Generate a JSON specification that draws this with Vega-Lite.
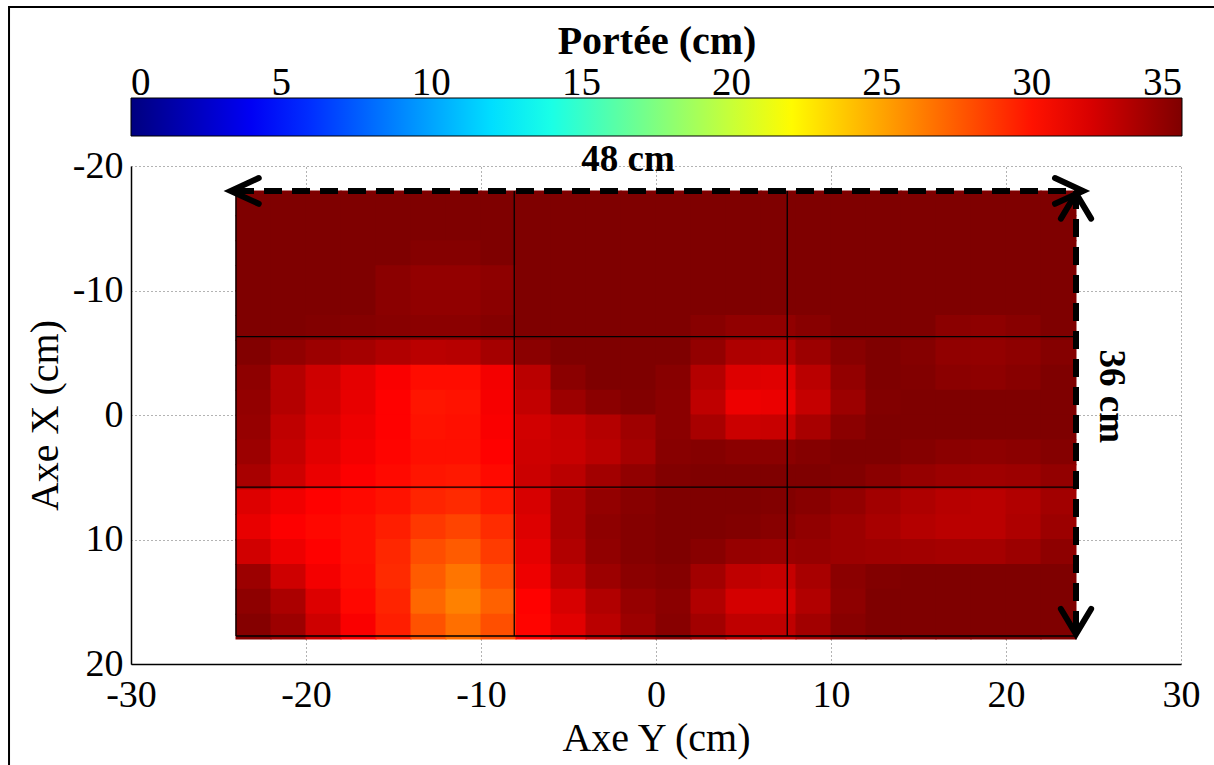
{
"$schema": "https://vega.github.io/schema/vega-lite/v6.json",
"width": 1050,
"height": 498,
"autosize": {"type": "none"},
"padding": {"left": 131, "top": 166, "right": 33, "bottom": 101},
"background": "white",
"datasets": {
"cells": [
{"x":-23,"y":-17,"v":35},{"x":-21,"y":-17,"v":35},{"x":-19,"y":-17,"v":35},{"x":-17,"y":-17,"v":35},{"x":-15,"y":-17,"v":35},{"x":-13,"y":-17,"v":35},{"x":-11,"y":-17,"v":35},{"x":-9,"y":-17,"v":35},{"x":-7,"y":-17,"v":35},{"x":-5,"y":-17,"v":35},{"x":-3,"y":-17,"v":35},{"x":-1,"y":-17,"v":35},{"x":1,"y":-17,"v":35},{"x":3,"y":-17,"v":35},{"x":5,"y":-17,"v":35},{"x":7,"y":-17,"v":35},{"x":9,"y":-17,"v":35},{"x":11,"y":-17,"v":35},{"x":13,"y":-17,"v":35},{"x":15,"y":-17,"v":35},{"x":17,"y":-17,"v":35},{"x":19,"y":-17,"v":35},{"x":21,"y":-17,"v":35},{"x":23,"y":-17,"v":35},
{"x":-23,"y":-15,"v":35},{"x":-21,"y":-15,"v":35},{"x":-19,"y":-15,"v":35},{"x":-17,"y":-15,"v":35},{"x":-15,"y":-15,"v":35},{"x":-13,"y":-15,"v":35},{"x":-11,"y":-15,"v":35},{"x":-9,"y":-15,"v":35},{"x":-7,"y":-15,"v":35},{"x":-5,"y":-15,"v":35},{"x":-3,"y":-15,"v":35},{"x":-1,"y":-15,"v":35},{"x":1,"y":-15,"v":35},{"x":3,"y":-15,"v":35},{"x":5,"y":-15,"v":35},{"x":7,"y":-15,"v":35},{"x":9,"y":-15,"v":35},{"x":11,"y":-15,"v":35},{"x":13,"y":-15,"v":35},{"x":15,"y":-15,"v":35},{"x":17,"y":-15,"v":35},{"x":19,"y":-15,"v":35},{"x":21,"y":-15,"v":35},{"x":23,"y":-15,"v":35},
{"x":-23,"y":-13,"v":35},{"x":-21,"y":-13,"v":35},{"x":-19,"y":-13,"v":35},{"x":-17,"y":-13,"v":35},{"x":-15,"y":-13,"v":35},{"x":-13,"y":-13,"v":34.8},{"x":-11,"y":-13,"v":34.8},{"x":-9,"y":-13,"v":35},{"x":-7,"y":-13,"v":35},{"x":-5,"y":-13,"v":35},{"x":-3,"y":-13,"v":35},{"x":-1,"y":-13,"v":35},{"x":1,"y":-13,"v":35},{"x":3,"y":-13,"v":35},{"x":5,"y":-13,"v":35},{"x":7,"y":-13,"v":35},{"x":9,"y":-13,"v":35},{"x":11,"y":-13,"v":35},{"x":13,"y":-13,"v":35},{"x":15,"y":-13,"v":35},{"x":17,"y":-13,"v":35},{"x":19,"y":-13,"v":35},{"x":21,"y":-13,"v":35},{"x":23,"y":-13,"v":35},
{"x":-23,"y":-11,"v":35},{"x":-21,"y":-11,"v":35},{"x":-19,"y":-11,"v":35},{"x":-17,"y":-11,"v":35},{"x":-15,"y":-11,"v":34.6},{"x":-13,"y":-11,"v":34.3},{"x":-11,"y":-11,"v":34.3},{"x":-9,"y":-11,"v":34.5},{"x":-7,"y":-11,"v":35},{"x":-5,"y":-11,"v":35},{"x":-3,"y":-11,"v":35},{"x":-1,"y":-11,"v":35},{"x":1,"y":-11,"v":35},{"x":3,"y":-11,"v":35},{"x":5,"y":-11,"v":35},{"x":7,"y":-11,"v":35},{"x":9,"y":-11,"v":35},{"x":11,"y":-11,"v":35},{"x":13,"y":-11,"v":35},{"x":15,"y":-11,"v":35},{"x":17,"y":-11,"v":35},{"x":19,"y":-11,"v":35},{"x":21,"y":-11,"v":35},{"x":23,"y":-11,"v":35},
{"x":-23,"y":-9,"v":35},{"x":-21,"y":-9,"v":35},{"x":-19,"y":-9,"v":35},{"x":-17,"y":-9,"v":35},{"x":-15,"y":-9,"v":34.6},{"x":-13,"y":-9,"v":34.4},{"x":-11,"y":-9,"v":34.4},{"x":-9,"y":-9,"v":34.6},{"x":-7,"y":-9,"v":35},{"x":-5,"y":-9,"v":35},{"x":-3,"y":-9,"v":35},{"x":-1,"y":-9,"v":35},{"x":1,"y":-9,"v":35},{"x":3,"y":-9,"v":35},{"x":5,"y":-9,"v":35},{"x":7,"y":-9,"v":35},{"x":9,"y":-9,"v":35},{"x":11,"y":-9,"v":35},{"x":13,"y":-9,"v":35},{"x":15,"y":-9,"v":35},{"x":17,"y":-9,"v":35},{"x":19,"y":-9,"v":35},{"x":21,"y":-9,"v":35},{"x":23,"y":-9,"v":35},
{"x":-23,"y":-7,"v":35},{"x":-21,"y":-7,"v":35},{"x":-19,"y":-7,"v":34.9},{"x":-17,"y":-7,"v":34.8},{"x":-15,"y":-7,"v":34.7},{"x":-13,"y":-7,"v":34.6},{"x":-11,"y":-7,"v":34.6},{"x":-9,"y":-7,"v":34.8},{"x":-7,"y":-7,"v":35},{"x":-5,"y":-7,"v":35},{"x":-3,"y":-7,"v":35},{"x":-1,"y":-7,"v":35},{"x":1,"y":-7,"v":35},{"x":3,"y":-7,"v":34.7},{"x":5,"y":-7,"v":34.4},{"x":7,"y":-7,"v":34.4},{"x":9,"y":-7,"v":34.7},{"x":11,"y":-7,"v":35},{"x":13,"y":-7,"v":35},{"x":15,"y":-7,"v":35},{"x":17,"y":-7,"v":34.6},{"x":19,"y":-7,"v":34.5},{"x":21,"y":-7,"v":34.7},{"x":23,"y":-7,"v":35},
{"x":-23,"y":-5,"v":34.9},{"x":-21,"y":-5,"v":34.4},{"x":-19,"y":-5,"v":34},{"x":-17,"y":-5,"v":33.7},{"x":-15,"y":-5,"v":33.3},{"x":-13,"y":-5,"v":33},{"x":-11,"y":-5,"v":33.1},{"x":-9,"y":-5,"v":33.7},{"x":-7,"y":-5,"v":34.6},{"x":-5,"y":-5,"v":35},{"x":-3,"y":-5,"v":35},{"x":-1,"y":-5,"v":35},{"x":1,"y":-5,"v":35},{"x":3,"y":-5,"v":34.3},{"x":5,"y":-5,"v":33.4},{"x":7,"y":-5,"v":33.3},{"x":9,"y":-5,"v":34},{"x":11,"y":-5,"v":34.7},{"x":13,"y":-5,"v":35},{"x":15,"y":-5,"v":34.8},{"x":17,"y":-5,"v":34.4},{"x":19,"y":-5,"v":34.3},{"x":21,"y":-5,"v":34.5},{"x":23,"y":-5,"v":34.8},
{"x":-23,"y":-3,"v":34.5},{"x":-21,"y":-3,"v":33.2},{"x":-19,"y":-3,"v":32.3},{"x":-17,"y":-3,"v":31.5},{"x":-15,"y":-3,"v":30.8},{"x":-13,"y":-3,"v":30.2},{"x":-11,"y":-3,"v":30.2},{"x":-9,"y":-3,"v":31},{"x":-7,"y":-3,"v":33},{"x":-5,"y":-3,"v":34.6},{"x":-3,"y":-3,"v":35},{"x":-1,"y":-3,"v":35},{"x":1,"y":-3,"v":34.7},{"x":3,"y":-3,"v":33.2},{"x":5,"y":-3,"v":31.8},{"x":7,"y":-3,"v":31.7},{"x":9,"y":-3,"v":33},{"x":11,"y":-3,"v":34.3},{"x":13,"y":-3,"v":35},{"x":15,"y":-3,"v":34.9},{"x":17,"y":-3,"v":34.6},{"x":19,"y":-3,"v":34.5},{"x":21,"y":-3,"v":34.7},{"x":23,"y":-3,"v":35},
{"x":-23,"y":-1,"v":34.3},{"x":-21,"y":-1,"v":33.2},{"x":-19,"y":-1,"v":32.2},{"x":-17,"y":-1,"v":31.4},{"x":-15,"y":-1,"v":30.6},{"x":-13,"y":-1,"v":29.9},{"x":-11,"y":-1,"v":30},{"x":-9,"y":-1,"v":30.9},{"x":-7,"y":-1,"v":32.7},{"x":-5,"y":-1,"v":34},{"x":-3,"y":-1,"v":34.6},{"x":-1,"y":-1,"v":34.9},{"x":1,"y":-1,"v":34.6},{"x":3,"y":-1,"v":32.8},{"x":5,"y":-1,"v":31.2},{"x":7,"y":-1,"v":31.3},{"x":9,"y":-1,"v":32.6},{"x":11,"y":-1,"v":34},{"x":13,"y":-1,"v":34.9},{"x":15,"y":-1,"v":35},{"x":17,"y":-1,"v":35},{"x":19,"y":-1,"v":35},{"x":21,"y":-1,"v":35},{"x":23,"y":-1,"v":35},
{"x":-23,"y":1,"v":34.2},{"x":-21,"y":1,"v":32.8},{"x":-19,"y":1,"v":31.9},{"x":-17,"y":1,"v":31.2},{"x":-15,"y":1,"v":30.6},{"x":-13,"y":1,"v":30},{"x":-11,"y":1,"v":30.1},{"x":-9,"y":1,"v":30.8},{"x":-7,"y":1,"v":32.2},{"x":-5,"y":1,"v":32.6},{"x":-3,"y":1,"v":33.2},{"x":-1,"y":1,"v":33.9},{"x":1,"y":1,"v":34.6},{"x":3,"y":1,"v":33.6},{"x":5,"y":1,"v":32.4},{"x":7,"y":1,"v":32.5},{"x":9,"y":1,"v":33.6},{"x":11,"y":1,"v":34.6},{"x":13,"y":1,"v":35},{"x":15,"y":1,"v":35},{"x":17,"y":1,"v":35},{"x":19,"y":1,"v":35},{"x":21,"y":1,"v":35},{"x":23,"y":1,"v":35},
{"x":-23,"y":3,"v":34},{"x":-21,"y":3,"v":32.6},{"x":-19,"y":3,"v":31.6},{"x":-17,"y":3,"v":31},{"x":-15,"y":3,"v":30.5},{"x":-13,"y":3,"v":30.1},{"x":-11,"y":3,"v":30.1},{"x":-9,"y":3,"v":30.6},{"x":-7,"y":3,"v":32.3},{"x":-5,"y":3,"v":32.5},{"x":-3,"y":3,"v":33},{"x":-1,"y":3,"v":33.7},{"x":1,"y":3,"v":34.7},{"x":3,"y":3,"v":34.8},{"x":5,"y":3,"v":34.6},{"x":7,"y":3,"v":34.6},{"x":9,"y":3,"v":34.8},{"x":11,"y":3,"v":35},{"x":13,"y":3,"v":35},{"x":15,"y":3,"v":34.8},{"x":17,"y":3,"v":34.6},{"x":19,"y":3,"v":34.5},{"x":21,"y":3,"v":34.6},{"x":23,"y":3,"v":34.8},
{"x":-23,"y":5,"v":33.6},{"x":-21,"y":5,"v":32.3},{"x":-19,"y":5,"v":31.3},{"x":-17,"y":5,"v":30.7},{"x":-15,"y":5,"v":30.3},{"x":-13,"y":5,"v":29.9},{"x":-11,"y":5,"v":29.8},{"x":-9,"y":5,"v":30.3},{"x":-7,"y":5,"v":32.4},{"x":-5,"y":5,"v":33},{"x":-3,"y":5,"v":33.8},{"x":-1,"y":5,"v":34.4},{"x":1,"y":5,"v":34.9},{"x":3,"y":5,"v":35},{"x":5,"y":5,"v":35},{"x":7,"y":5,"v":35},{"x":9,"y":5,"v":35},{"x":11,"y":5,"v":34.9},{"x":13,"y":5,"v":34.6},{"x":15,"y":5,"v":34.2},{"x":17,"y":5,"v":34},{"x":19,"y":5,"v":33.9},{"x":21,"y":5,"v":34},{"x":23,"y":5,"v":34.3},
{"x":-23,"y":7,"v":31.8},{"x":-21,"y":7,"v":31.1},{"x":-19,"y":7,"v":30.6},{"x":-17,"y":7,"v":30.3},{"x":-15,"y":7,"v":30},{"x":-13,"y":7,"v":29.4},{"x":-11,"y":7,"v":29.2},{"x":-9,"y":7,"v":29.8},{"x":-7,"y":7,"v":32},{"x":-5,"y":7,"v":33.5},{"x":-3,"y":7,"v":34.3},{"x":-1,"y":7,"v":34.7},{"x":1,"y":7,"v":35},{"x":3,"y":7,"v":35},{"x":5,"y":7,"v":35},{"x":7,"y":7,"v":34.9},{"x":9,"y":7,"v":34.7},{"x":11,"y":7,"v":34.3},{"x":13,"y":7,"v":33.8},{"x":15,"y":7,"v":33.4},{"x":17,"y":7,"v":33.1},{"x":19,"y":7,"v":33},{"x":21,"y":7,"v":33.3},{"x":23,"y":7,"v":33.8},
{"x":-23,"y":9,"v":31.4},{"x":-21,"y":9,"v":30.7},{"x":-19,"y":9,"v":30.4},{"x":-17,"y":9,"v":30.1},{"x":-15,"y":9,"v":29.6},{"x":-13,"y":9,"v":28.7},{"x":-11,"y":9,"v":28.3},{"x":-9,"y":9,"v":29.1},{"x":-7,"y":9,"v":31.8},{"x":-5,"y":9,"v":33.5},{"x":-3,"y":9,"v":34.5},{"x":-1,"y":9,"v":34.8},{"x":1,"y":9,"v":35},{"x":3,"y":9,"v":35},{"x":5,"y":9,"v":34.9},{"x":7,"y":9,"v":34.7},{"x":9,"y":9,"v":34.4},{"x":11,"y":9,"v":34},{"x":13,"y":9,"v":33.6},{"x":15,"y":9,"v":33.2},{"x":17,"y":9,"v":33},{"x":19,"y":9,"v":33},{"x":21,"y":9,"v":33.4},{"x":23,"y":9,"v":34},
{"x":-23,"y":11,"v":32.2},{"x":-21,"y":11,"v":31.2},{"x":-19,"y":11,"v":30.6},{"x":-17,"y":11,"v":30.1},{"x":-15,"y":11,"v":29.3},{"x":-13,"y":11,"v":28},{"x":-11,"y":11,"v":27.5},{"x":-9,"y":11,"v":28.6},{"x":-7,"y":11,"v":31.5},{"x":-5,"y":11,"v":33.3},{"x":-3,"y":11,"v":34.4},{"x":-1,"y":11,"v":34.8},{"x":1,"y":11,"v":35},{"x":3,"y":11,"v":34.7},{"x":5,"y":11,"v":34.2},{"x":7,"y":11,"v":34.1},{"x":9,"y":11,"v":34.2},{"x":11,"y":11,"v":34},{"x":13,"y":11,"v":33.9},{"x":15,"y":11,"v":33.8},{"x":17,"y":11,"v":33.7},{"x":19,"y":11,"v":33.7},{"x":21,"y":11,"v":34},{"x":23,"y":11,"v":34.5},
{"x":-23,"y":13,"v":34},{"x":-21,"y":13,"v":32.3},{"x":-19,"y":13,"v":31},{"x":-17,"y":13,"v":30.2},{"x":-15,"y":13,"v":29.2},{"x":-13,"y":13,"v":27.5},{"x":-11,"y":13,"v":26.6},{"x":-9,"y":13,"v":27.9},{"x":-7,"y":13,"v":31.2},{"x":-5,"y":13,"v":32.8},{"x":-3,"y":13,"v":34},{"x":-1,"y":13,"v":34.6},{"x":1,"y":13,"v":34.8},{"x":3,"y":13,"v":33.8},{"x":5,"y":13,"v":32.8},{"x":7,"y":13,"v":32.6},{"x":9,"y":13,"v":33.6},{"x":11,"y":13,"v":34.6},{"x":13,"y":13,"v":34.9},{"x":15,"y":13,"v":35},{"x":17,"y":13,"v":35},{"x":19,"y":13,"v":35},{"x":21,"y":13,"v":35},{"x":23,"y":13,"v":35},
{"x":-23,"y":15,"v":34.5},{"x":-21,"y":15,"v":33.5},{"x":-19,"y":15,"v":31.8},{"x":-17,"y":15,"v":30.4},{"x":-15,"y":15,"v":29.4},{"x":-13,"y":15,"v":27.1},{"x":-11,"y":15,"v":26.2},{"x":-9,"y":15,"v":27.3},{"x":-7,"y":15,"v":30.6},{"x":-5,"y":15,"v":32},{"x":-3,"y":15,"v":33.3},{"x":-1,"y":15,"v":34.2},{"x":1,"y":15,"v":34.6},{"x":3,"y":15,"v":33.3},{"x":5,"y":15,"v":32.1},{"x":7,"y":15,"v":32.1},{"x":9,"y":15,"v":33.3},{"x":11,"y":15,"v":34.5},{"x":13,"y":15,"v":35},{"x":15,"y":15,"v":35},{"x":17,"y":15,"v":35},{"x":19,"y":15,"v":35},{"x":21,"y":15,"v":35},{"x":23,"y":15,"v":35},
{"x":-23,"y":17,"v":34.8},{"x":-21,"y":17,"v":34},{"x":-19,"y":17,"v":32.3},{"x":-17,"y":17,"v":30.8},{"x":-15,"y":17,"v":29.6},{"x":-13,"y":17,"v":27.8},{"x":-11,"y":17,"v":26.8},{"x":-9,"y":17,"v":27.9},{"x":-7,"y":17,"v":30.5},{"x":-5,"y":17,"v":31.6},{"x":-3,"y":17,"v":33},{"x":-1,"y":17,"v":34},{"x":1,"y":17,"v":34.7},{"x":3,"y":17,"v":33.8},{"x":5,"y":17,"v":32.8},{"x":7,"y":17,"v":32.8},{"x":9,"y":17,"v":33.8},{"x":11,"y":17,"v":34.7},{"x":13,"y":17,"v":35},{"x":15,"y":17,"v":35},{"x":17,"y":17,"v":35},{"x":19,"y":17,"v":35},{"x":21,"y":17,"v":35},{"x":23,"y":17,"v":35}
],
"lines": [
{"x":-8.1,"x2":-8.1,"y":-18,"y2":17.75},
{"x":7.5,"x2":7.5,"y":-18,"y2":17.75},
{"x":-24,"x2":24,"y":-6.3,"y2":-6.3},
{"x":-24,"x2":24,"y":5.8,"y2":5.8},
{"x":-24,"x2":-24,"y":-18,"y2":17.75},
{"x":-24,"x2":24,"y":17.75,"y2":17.75}
],
"dashes": [
{"x":-24,"x2":24.2,"y":-18,"y2":-18},
{"x":24,"x2":24,"y":-18,"y2":17.6}
],
"arrows": [
{"x":-24.3,"y":-18,"dir":"left"},
{"x":24.4,"y":-18,"dir":"right"},
{"x":24,"y":-17.8,"dir":"up"},
{"x":24,"y":17.6,"dir":"down"}
],
"frame": [
{"x":-36.97,"x2":33,"y":-32.77,"y2":29}
]
},
"layer": [
{
"data": {"name": "cells"},
"mark": {"type": "rect", "width": 36, "height": 25.8},
"encoding": {
"x": {"field": "x", "type": "quantitative", "title": "Axe Y (cm)",
"scale": {"domain": [-30, 30], "nice": false, "zero": false},
"axis": {"values": [-30, -20, -10, 0, 10, 20, 30]}},
"y": {"field": "y", "type": "quantitative", "title": "Axe X (cm)",
"scale": {"domain": [-20, 20], "nice": false, "zero": false, "reverse": true},
"axis": {"values": [-20, -10, 0, 10, 20]}},
"color": {"field": "v", "type": "quantitative",
"scale": {"domain": [0, 4.375, 13.125, 21.875, 30.625, 35],
"range": ["#00007f", "#0000ff", "#00ffff", "#ffff00", "#ff0000", "#7f0000"],
"interpolate": "rgb", "clamp": true},
"legend": {"title": "Portée (cm)", "orient": "none", "direction": "horizontal",
"legendX": 0, "legendY": -144, "padding": 0,
"gradientLength": 1051, "gradientThickness": 38,
"gradientStrokeColor": "black", "gradientStrokeWidth": 1,
"values": [0, 5, 10, 15, 20, 25, 30, 35],
"labelFont": "Liberation Serif", "labelFontSize": 39, "labelColor": "black",
"labelAlign": "center", "labelBaseline": "top", "labelOffset": -72, "labelOverlap": false,
"titleFont": "Liberation Serif", "titleFontSize": 40, "titleFontWeight": "bold", "titleColor": "black",
"titleAnchor": "middle", "titlePadding": 36, "titleLimit": 2000}}
}
},
{
"data": {"name": "lines"},
"mark": {"type": "rule", "color": "black", "strokeWidth": 1.3},
"encoding": {
"x": {"field": "x", "type": "quantitative", "title": "Axe Y (cm)"},
"x2": {"field": "x2"},
"y": {"field": "y", "type": "quantitative", "title": "Axe X (cm)"},
"y2": {"field": "y2"}
}
},
{
"data": {"name": "dashes"},
"mark": {"type": "rule", "color": "black", "strokeWidth": 6, "strokeDash": [18, 10]},
"encoding": {
"x": {"field": "x", "type": "quantitative", "title": "Axe Y (cm)"},
"x2": {"field": "x2"},
"y": {"field": "y", "type": "quantitative", "title": "Axe X (cm)"},
"y2": {"field": "y2"}
}
},
{
"data": {"name": "arrows"},
"mark": {"type": "point", "filled": false, "stroke": "black", "strokeWidth": 6, "strokeCap": "round", "size": 3136, "opacity": 1},
"encoding": {
"x": {"field": "x", "type": "quantitative", "title": "Axe Y (cm)"},
"y": {"field": "y", "type": "quantitative", "title": "Axe X (cm)"},
"shape": {"field": "dir", "type": "nominal",
"scale": {"domain": ["left", "right", "up", "down"],
"range": ["M1,-0.46L0,0L1,0.46", "M-1,-0.46L0,0L-1,0.46", "M-0.54,0.9L0,0L0.54,0.9", "M-0.54,-0.9L0,0L0.54,-0.9"]},
"legend": null}
}
},
{
"data": {"values": [{"x": -1.6, "y": -20.5, "label": "48 cm"}]},
"mark": {"type": "text", "font": "Liberation Serif", "fontSize": 37, "fontWeight": "bold", "color": "black", "align": "center", "baseline": "middle"},
"encoding": {
"x": {"field": "x", "type": "quantitative", "title": "Axe Y (cm)"},
"y": {"field": "y", "type": "quantitative", "title": "Axe X (cm)"},
"text": {"field": "label"}
}
},
{
"data": {"values": [{"x": 26, "y": -1.5, "label": "36 cm"}]},
"mark": {"type": "text", "font": "Liberation Serif", "fontSize": 37, "fontWeight": "bold", "color": "black", "align": "center", "baseline": "middle", "angle": 90},
"encoding": {
"x": {"field": "x", "type": "quantitative", "title": "Axe Y (cm)"},
"y": {"field": "y", "type": "quantitative", "title": "Axe X (cm)"},
"text": {"field": "label"}
}
},
{
"data": {"name": "frame"},
"mark": {"type": "rect", "fillOpacity": 0, "stroke": "black", "strokeWidth": 2},
"encoding": {
"x": {"field": "x", "type": "quantitative", "title": "Axe Y (cm)"},
"x2": {"field": "x2"},
"y": {"field": "y", "type": "quantitative", "title": "Axe X (cm)"},
"y2": {"field": "y2"}
}
}
],
"config": {
"font": "Liberation Serif",
"view": {"stroke": null},
"axis": {
"labelFont": "Liberation Serif", "titleFont": "Liberation Serif",
"labelColor": "black", "titleColor": "black", "titleFontWeight": "normal",
"labelFontSize": 38, "titleFontSize": 40,
"labelExpr": "replace(datum.label, '−', '-')",
"ticks": false, "grid": true, "gridColor": "#666666", "gridDash": [1, 3], "gridWidth": 1,
"domainColor": "black", "domainWidth": 1.5, "labelFlush": false, "labelOverlap": false
},
"axisX": {"labelPadding": 12, "titlePadding": 4},
"axisY": {"labelPadding": 8, "titlePadding": 7}
}
}
